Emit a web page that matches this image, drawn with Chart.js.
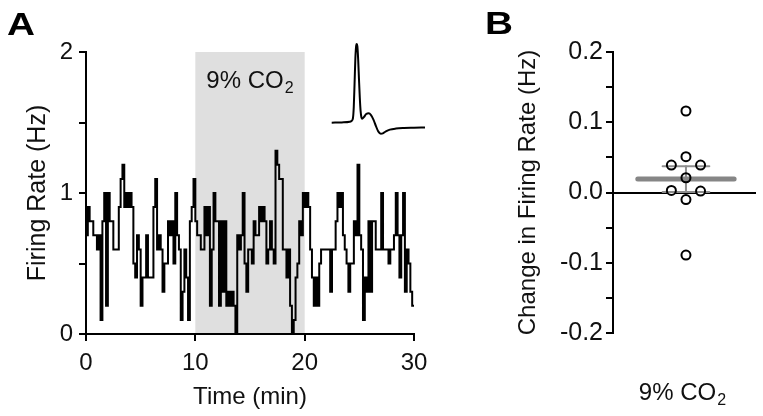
<!DOCTYPE html>
<html>
<head>
<meta charset="utf-8">
<script src="https://cdn.jsdelivr.net/npm/chart.js@4.4.0/dist/chart.umd.min.js"></script>
<style>
html,body{margin:0;padding:0;background:#fff;}
body{width:763px;height:416px;position:relative;overflow:hidden;font-family:"Liberation Sans",Arial,sans-serif;}
.box{position:absolute;}
#wa{left:0;top:0;width:440px;height:416px;}
#wb{left:440px;top:0;width:323px;height:416px;}
#wi{left:322px;top:34px;width:112px;height:108px;}
.lbl{position:absolute;font-family:"Liberation Sans",Arial,sans-serif;font-weight:bold;font-size:31px;line-height:1;color:#000;transform:scaleX(1.25);transform-origin:left top;}
</style>
</head>
<body>
<div class="box" id="wa"><canvas id="ca"></canvas></div>
<div class="box" id="wb"><canvas id="cb"></canvas></div>
<div class="box" id="wi"><canvas id="ci"></canvas></div>
<div class="lbl" style="left:7px;top:9px">A</div>
<div class="lbl" style="left:485px;top:8px">B</div>
<script>
// ---------- data ----------
// Panel A: firing rate (Hz) in consecutive 10-s bins over 30 min
const binMinutes = 10 / 60;
const firingRate = [
  0.7,0.9,0.8,0.8,0.7,0.7,0.6,0.7,0.1,0.8,1.0,0.2,1.0,0.8,0.8,0.6,0.6,0.6,0.9,1.1,
  1.2,0.9,1.0,0.9,1.0,0.9,0.5,0.4,0.7,0.6,0.2,0.4,0.4,0.7,0.4,0.4,0.4,0.9,1.1,0.6,
  0.7,0.6,0.3,0.5,0.5,0.8,0.7,0.8,0.5,1.0,0.7,0.6,0.1,0.3,0.6,0.4,0.1,0.8,0.9,1.1,
  0.8,0.7,0.7,0.6,0.6,0.9,0.7,0.9,0.2,0.6,1.0,0.8,0.8,0.2,0.8,0.3,0.8,0.2,0.3,0.2,
  0.3,0.2,0.0,0.7,0.6,0.7,1.0,0.5,0.3,0.6,0.6,0.5,0.8,0.7,0.7,0.9,0.8,0.9,0.8,0.5,
  0.6,0.8,0.6,0.5,1.3,1.2,1.1,1.1,0.6,0.6,0.4,0.6,0.2,0.0,0.1,0.4,0.5,0.8,0.7,1.0,
  0.9,1.0,0.9,0.6,0.4,0.2,0.4,0.2,0.5,0.6,0.6,0.6,0.6,0.6,0.3,0.6,0.6,0.8,1.0,0.9,
  1.0,0.7,0.6,0.5,0.3,0.5,0.5,0.8,0.7,1.2,0.7,0.6,0.1,0.4,0.3,0.8,0.3,0.8,0.8,0.6,
  0.6,0.6,1.0,0.6,0.6,0.6,0.5,0.6,0.6,0.7,1.0,0.7,0.4,0.7,1.0,0.3,0.6,0.5,0.3,0.2
];
const co2Window = [10, 20];           // minutes of 9% CO2
const timeTicks = [0, 10, 20, 30];
const rateTicks = [0, 1, 2];
const co2Label = ['9% CO', '2'];

// Inset: averaged spike waveform (ms, normalised amplitude)
const spikeTime = [0,0.5,0.9,1.0,1.06,1.1,1.14,1.18,1.22,1.25,1.28,1.32,1.36,1.4,1.44,1.48,1.52,1.6,1.72,1.85,1.95,2.08,2.2,2.32,2.45,2.55,2.7,2.9,3.2,3.6,4.1,4.65];
const spikeAmp  = [0,0.004,0.012,0.025,0.06,0.2,0.5,0.82,0.98,1.0,0.97,0.8,0.55,0.32,0.15,0.07,0.05,0.07,0.11,0.12,0.1,0.04,-0.04,-0.11,-0.14,-0.135,-0.11,-0.088,-0.075,-0.068,-0.064,-0.06];

// Panel B: change in firing rate (Hz) for each neuron
const changeValues = [0.116, 0.051, 0.039, 0.039, 0.021, 0.003, 0.002, -0.010, -0.089];
const changeTicks = [-0.2, -0.1, 0.0, 0.1, 0.2];

// ---------- helpers ----------
const FAM = "'Liberation Sans', Arial, sans-serif";
const INK = '#111';
Chart.defaults.font.family = FAM;
Chart.defaults.color = INK;

function drawSub(ctx, main, sub, cx, baseline, size) {
  ctx.save();
  ctx.fillStyle = INK;
  ctx.textBaseline = 'alphabetic';
  ctx.textAlign = 'left';
  ctx.font = size + 'px ' + FAM;
  const wm = ctx.measureText(main).width;
  const ss = Math.round(size * 0.66);
  ctx.font = ss + 'px ' + FAM;
  const ws = ctx.measureText(sub).width;
  const x0 = cx - (wm + ws + 1) / 2;
  ctx.font = size + 'px ' + FAM;
  ctx.fillText(main, x0, baseline);
  ctx.font = ss + 'px ' + FAM;
  ctx.fillText(sub, x0 + wm + 1, baseline + size * 0.2);
  ctx.restore();
}

// ---------- Panel A ----------
const trace = firingRate.map((v, i) => ({x: i * binMinutes, y: v}));
trace.push({x: firingRate.length * binMinutes, y: firingRate[firingRate.length - 1]});

const shadePlugin = {
  id: 'shade',
  beforeDraw(chart) {
    const {ctx, scales: {x, y}} = chart;
    const x0 = x.getPixelForValue(co2Window[0]);
    const x1 = x.getPixelForValue(co2Window[1]);
    const yT = y.getPixelForValue(y.max);
    const yB = y.getPixelForValue(y.min);
    ctx.save();
    ctx.fillStyle = '#dfdfdf';
    ctx.fillRect(x0, yT, x1 - x0, yB - yT);
    ctx.restore();
    drawSub(ctx, co2Label[0], co2Label[1], (x0 + x1) / 2, yT + 36, 24);
  }
};

new Chart(document.getElementById('ca'), {
  type: 'line',
  data: {datasets: [{
    data: trace, stepped: true, borderColor: '#000', borderWidth: 2,
    pointRadius: 0, fill: false, clip: false
  }]},
  options: {
    responsive: true, maintainAspectRatio: false, animation: false,
    layout: {padding: {left: 0, right: 26, top: 52, bottom: 0}},
    plugins: {legend: {display: false}, tooltip: {enabled: false}},
    scales: {
      x: {
        type: 'linear', min: timeTicks[0], max: timeTicks[timeTicks.length - 1],
        afterBuildTicks: s => { s.ticks = timeTicks.map(v => ({value: v})); },
        ticks: {color: INK, font: {size: 24}, padding: 8, maxRotation: 0, autoSkip: false},
        grid: {display: true, drawOnChartArea: false, drawTicks: true, tickLength: 7, color: '#000', lineWidth: 2},
        border: {display: true, color: '#000', width: 2},
        title: {display: true, text: 'Time (min)', color: INK, font: {size: 24}, padding: {top: 0, bottom: 4}},
        afterFit: s => { s.height = 82; }
      },
      y: {
        type: 'linear', min: rateTicks[0], max: rateTicks[rateTicks.length - 1],
        ticks: {stepSize: 0.5, color: INK, font: {size: 24}, padding: 6, autoSkip: false,
          callback: v => rateTicks.includes(v) ? String(v) : ''},
        grid: {display: true, drawOnChartArea: false, drawTicks: true, tickLength: 7, color: '#000', lineWidth: 2},
        border: {display: true, color: '#000', width: 2},
        title: {display: true, text: 'Firing Rate (Hz)', color: INK, font: {size: 25}, padding: {top: 23, bottom: 0}},
        afterFit: s => { s.width = 86; }
      }
    }
  },
  plugins: [shadePlugin]
});

// ---------- Inset ----------
new Chart(document.getElementById('ci'), {
  type: 'line',
  data: {datasets: [{
    data: spikeTime.map((t, i) => ({x: t, y: spikeAmp[i]})),
    borderColor: '#000', borderWidth: 2, pointRadius: 0, fill: false,
    cubicInterpolationMode: 'monotone', clip: false
  }]},
  options: {
    responsive: true, maintainAspectRatio: false, animation: false,
    layout: {padding: {left: 9.7, right: 9, top: 8.4, bottom: 6.7}},
    plugins: {legend: {display: false}, tooltip: {enabled: false}},
    scales: {
      x: {type: 'linear', display: false, min: 0, max: 4.65},
      y: {type: 'linear', display: false, min: -0.16, max: 1.02}
    }
  }
});

// ---------- Panel B ----------
function swarmSlots(vals, minGap) {
  const order = vals.map((v, i) => i).sort((a, b) => vals[b] - vals[a]);
  const placed = [];
  const slot = new Array(vals.length).fill(0);
  const cands = [0, -1, 1, -2, 2];
  for (const i of order) {
    for (const c of cands) {
      if (!placed.some(p => p.s === c && Math.abs(p.v - vals[i]) < minGap)) {
        slot[i] = c; placed.push({s: c, v: vals[i]}); break;
      }
    }
  }
  return slot;
}
const slots = swarmSlots(changeValues, 0.02);
const pts = changeValues.map((v, i) => ({x: slots[i] * 0.2, y: v}));
const n = changeValues.length;
const mean = changeValues.reduce((a, b) => a + b, 0) / n;
const sd = Math.sqrt(changeValues.reduce((a, b) => a + (b - mean) ** 2, 0) / (n - 1));
const sem = sd / Math.sqrt(n);

const bLabelPlugin = {
  id: 'blabel',
  afterDraw(chart) {
    const a = chart.chartArea;
    drawSub(chart.ctx, co2Label[0], co2Label[1], (a.left + a.right) / 2 - 2, a.bottom + 67, 24);
  }
};

const greyLine = (data, w, col) => ({type: 'line', data, borderColor: col, borderWidth: w,
  borderCapStyle: 'round', pointRadius: 0, fill: false, clip: false, order: 2});

new Chart(document.getElementById('cb'), {
  type: 'scatter',
  data: {datasets: [
    {type: 'scatter', data: pts, pointRadius: 5, pointBackgroundColor: '#fff', pointBorderColor: '#fff', pointBorderWidth: 0, clip: false, order: 5},
    greyLine([{x: -0.66, y: mean}, {x: 0.66, y: mean}], 5, '#868686'),
    greyLine([{x: -0.32, y: mean + sem}, {x: 0.32, y: mean + sem}], 2, '#8e8e8e'),
    greyLine([{x: -0.32, y: mean - sem}, {x: 0.32, y: mean - sem}], 2, '#8e8e8e'),
    greyLine([{x: 0, y: mean - sem}, {x: 0, y: mean + sem}], 2, '#8e8e8e'),
    {type: 'scatter', data: pts, pointRadius: 4.5, pointBackgroundColor: 'rgba(0,0,0,0)', pointBorderColor: '#000', pointBorderWidth: 2, clip: false, order: 1}
  ]},
  options: {
    responsive: true, maintainAspectRatio: false, animation: false,
    layout: {padding: {left: 0, right: 7, top: 52, bottom: 83}},
    plugins: {legend: {display: false}, tooltip: {enabled: false}},
    scales: {
      x: {type: 'linear', display: false, min: -1, max: 0.96},
      y: {
        type: 'linear', min: changeTicks[0], max: changeTicks[changeTicks.length - 1],
        ticks: {stepSize: 0.05, color: INK, font: {size: 25}, padding: 3, autoSkip: false,
          callback: v => { const k = Math.round(v * 20); return k % 2 === 0 ? (k / 20).toFixed(1) : ''; }},
        grid: {display: true, drawOnChartArea: true, drawTicks: true, tickLength: 7, lineWidth: 2,
          color: c => (c.tick && Math.abs(c.tick.value) < 1e-9) ? '#000' : 'rgba(0,0,0,0)', tickColor: '#000'},
        border: {display: true, color: '#000', width: 2},
        title: {display: true, text: 'Change in Firing Rate (Hz)', color: INK, font: {size: 24}, padding: {top: 74, bottom: 0}},
        afterFit: s => { s.width = 173; }
      }
    }
  },
  plugins: [bLabelPlugin]
});
</script>
</body>
</html>
